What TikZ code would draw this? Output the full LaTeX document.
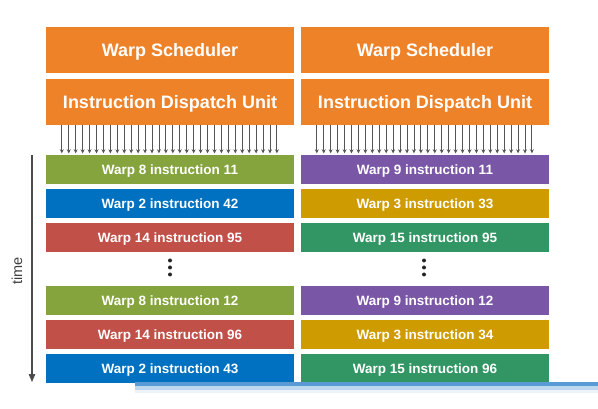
\documentclass[tikz,border=0pt]{standalone}
\usepackage{fontspec}
\setmainfont{Liberation Sans}
\usetikzlibrary{arrows.meta}
\definecolor{orgc}{RGB}{238,130,40}
\definecolor{grnc}{RGB}{134,164,62}
\definecolor{bluc}{RGB}{0,112,192}
\definecolor{redc}{RGB}{192,80,72}
\definecolor{purc}{RGB}{122,86,166}
\definecolor{gldc}{RGB}{206,156,0}
\definecolor{tlc}{RGB}{50,150,100}
\definecolor{arrc}{RGB}{85,85,85}
\begin{document}
\begin{tikzpicture}[x=1pt,y=-1pt,
  hdr/.style={minimum width=248pt, minimum height=46pt, inner sep=0pt, text height=13pt, text depth=0pt, fill=orgc, text=white, font=\fontsize{18}{18}\selectfont\bfseries},
  rowbox/.style={minimum width=248pt, minimum height=29pt, inner sep=0pt, text height=9.7pt, text depth=0pt, text=white, font=\fontsize{13.5}{14}\selectfont\bfseries},
  darr/.style={draw=arrc, line width=0.9pt, -{Stealth[length=4pt,width=4pt]}, shorten >=1.5pt},
  dotc/.style={fill=black!85}]
\useasboundingbox[fill=white] (0,0) rectangle (598,409);
% left column
\node[hdr] (wsL) at (170,50) {Warp Scheduler};
\node[hdr] (idL) at (170,102) {Instruction Dispatch Unit};
\node[rowbox, fill=grnc] (r1L) at (170,169.5) {Warp 8 instruction 11};
\node[rowbox, fill=bluc] (r2L) at (170,203.5) {Warp 2 instruction 42};
\node[rowbox, fill=redc] (r3L) at (170,237.5) {Warp 14 instruction 95};
\node[rowbox, fill=grnc] (r4L) at (170,300.5) {Warp 8 instruction 12};
\node[rowbox, fill=redc] (r5L) at (170,334.5) {Warp 14 instruction 96};
\node[rowbox, fill=bluc] (r6L) at (170,368.5) {Warp 2 instruction 43};
% right column
\node[hdr] (wsR) at (425,50) {Warp Scheduler};
\node[hdr] (idR) at (425,102) {Instruction Dispatch Unit};
\node[rowbox, fill=purc] (r1R) at (425,169.5) {Warp 9 instruction 11};
\node[rowbox, fill=gldc] (r2R) at (425,203.5) {Warp 3 instruction 33};
\node[rowbox, fill=tlc] (r3R) at (425,237.5) {Warp 15 instruction 95};
\node[rowbox, fill=purc] (r4R) at (425,300.5) {Warp 9 instruction 12};
\node[rowbox, fill=gldc] (r5R) at (425,334.5) {Warp 3 instruction 34};
\node[rowbox, fill=tlc] (r6R) at (425,368.5) {Warp 15 instruction 96};
% dispatch arrows
\foreach \i in {0,...,31}{
  \draw[darr] ([xshift={16+\i*6.94}]idL.south west) -- ([xshift={16+\i*6.94}]r1L.north west);
  \draw[darr] ([xshift={16+\i*6.94}]idR.south west) -- ([xshift={16+\i*6.94}]r1R.north west);
}
% ellipsis dots
\foreach \yy in {260.5,267.5,274.5}{
  \fill[dotc] (170,\yy) circle (2pt);
  \fill[dotc] (424,\yy) circle (2pt);
}
% time arrow
\coordinate (t1) at (32,155);
\coordinate (t2) at (32,382);
\draw[draw=black!70, line width=1.2pt, -{Triangle[length=8pt,width=6.5pt]}] (t1) -- (t2);
\node[rotate=90, text=black!75, font=\fontsize{14.5}{15}\selectfont] (tlab) at (17,271) {time};
% bottom bar
\fill[fill={rgb,255:red,91;green,155;blue,213}] (135,382) rectangle (598,386);
\fill[fill={rgb,255:red,189;green,215;blue,238}] (135,386) rectangle (598,390);
\fill[fill={rgb,255:red,236;green,243;blue,250}] (135,390) rectangle (598,393);
\end{tikzpicture}
\end{document}
